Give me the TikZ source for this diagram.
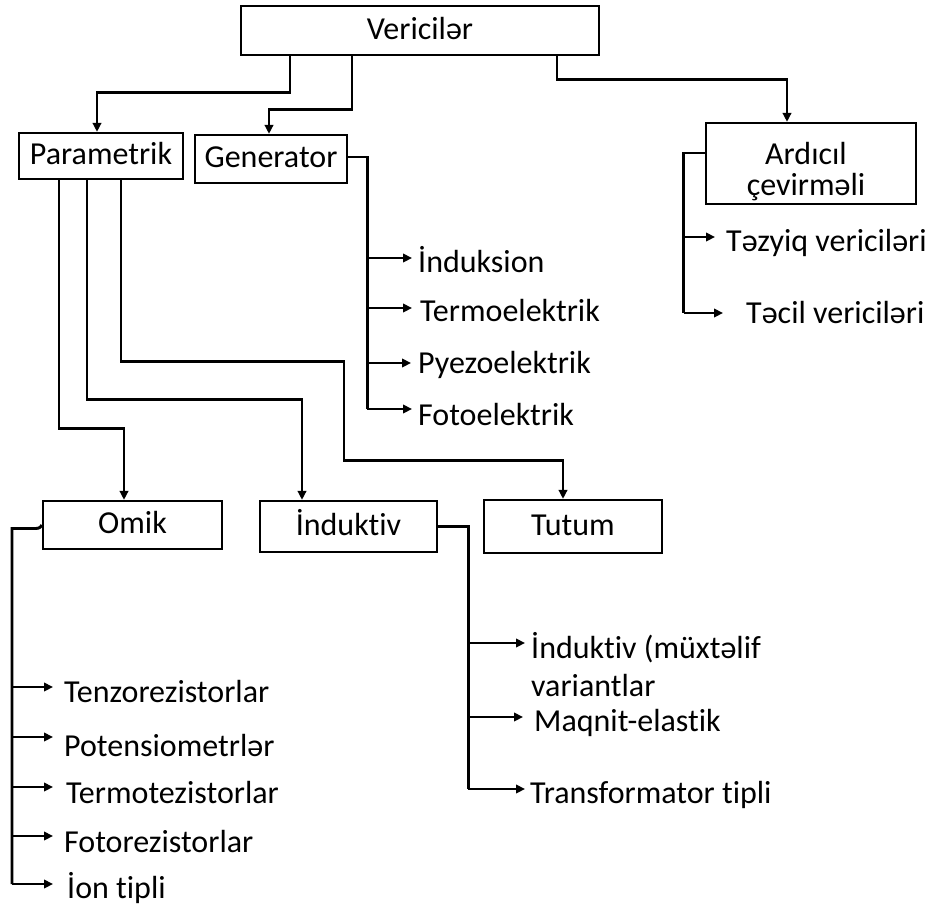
\documentclass[tikz,border=0pt]{standalone}
\usepackage{fontspec}
\setmainfont{Carlito}[Ligatures=NoCommon]
\usetikzlibrary{arrows.meta}
\begin{document}
\begin{tikzpicture}[x=1pt,y=-1pt,
  box/.style={draw, line width=2.3pt, inner sep=0pt, text height=21pt, text depth=3.5pt, font=\fontsize{32}{37}\selectfont},
  lbl/.style={anchor=base west, inner sep=0pt, font=\fontsize{32}{37}\selectfont},
  conn/.style={line width=2.9pt},
  arr/.style={conn, -{Triangle[length=9pt,width=8.5pt]}}]
\useasboundingbox (0,0) rectangle (929,906);
% boxes
\node[box, minimum width=358pt, minimum height=49pt] (ver) at (420,30.5) {Vericilər};
\node[box, minimum width=164pt, minimum height=46pt] (par) at (101,156) {Parametrik};
\node[box, minimum width=152pt, minimum height=48pt] (gen) at (271,159) {Generator};
\node[box, minimum width=210pt, minimum height=81pt] (ard) at (811,163.5) {};
\node[inner sep=0pt, align=center, font=\fontsize{32}{31}\selectfont] (ardt) at (806,172) {Ardıcıl\\çevirməli};
\node[box, minimum width=179pt, minimum height=48pt] (omik) at (132.5,525) {Omik};
\node[box, minimum width=177pt, minimum height=51pt] (ind) at (348.5,526.5) {İnduktiv};
\node[box, minimum width=178pt, minimum height=53pt] (tut) at (573,526.5) {Tutum};
% top connectors
\draw[arr] ([xshift=-130pt]ver.south) -- ++(0,36) -| ([xshift=-4pt]par.north);
\draw[arr] ([xshift=-68pt]ver.south) -- ++(0,53) -| ([xshift=-2pt]gen.north);
\draw[arr] ([xshift=137pt]ver.south) -- ++(0,23) -| ([xshift=-24pt]ard.north);
% parametrik connectors
\draw[arr] ([xshift=-42pt]par.south) -- ++(0,248) -| ([xshift=-8.5pt]omik.north);
\draw[arr] ([xshift=-14pt]par.south) -- ++(0,219) -| ([xshift=-46.5pt]ind.north);
\draw[arr] ([xshift=20pt]par.south) -- ++(0,181) -- ++(223,0) -- ++(0,99) -| ([xshift=-10pt]tut.north);
% generator tree
\coordinate (g1) at (412,258);
\coordinate (g2) at (412,308);
\coordinate (g3) at (411,363);
\coordinate (g4) at (412,409);
\draw[conn] ([yshift=2pt]gen.east) -- ++(19,0) coordinate (gv) -- (g4 -| gv);
\draw[arr] (g1 -| gv) -- (g1);
\draw[arr] (g2 -| gv) -- (g2);
\draw[arr] (g3 -| gv) -- (g3);
\draw[arr] (g4 -| gv) -- (g4);
\node[lbl] (l1) at (418,272.7) {İnduksion};
\node[lbl] (l2) at (420,321.7) {Termoelektrik};
\node[lbl] (l3) at (418,373.3) {Pyezoelektrik};
\node[lbl] (l4) at (418,425) {Fotoelektrik};
% ardicil tree
\coordinate (a1) at (715,237);
\coordinate (a2) at (723,313);
\draw[conn] ([yshift=10.5pt]ard.west) -- ++(-21,0) coordinate (av) -- (a2 -| av);
\draw[arr] (a1 -| av) -- (a1);
\draw[arr] (a2 -| av) -- (a2);
\node[lbl] (r1) at (726,251.7) {Təzyiq vericiləri};
\node[lbl] (r2) at (746,323.3) {Təcil vericiləri};
% omik tree
\coordinate (o1) at (53,687);
\coordinate (o2) at (53,737);
\coordinate (o3) at (53,787);
\coordinate (o4) at (53,836);
\coordinate (o5) at (53,884);
\coordinate (ov) at (12,528.5);
\draw[conn] (omik.west) .. controls (40,528.5) and (38,528.5) .. (33,528.5) -- (ov) -- (o5 -| ov);
\draw[arr] (o1 -| ov) -- (o1);
\draw[arr] (o2 -| ov) -- (o2);
\draw[arr] (o3 -| ov) -- (o3);
\draw[arr] (o4 -| ov) -- (o4);
\draw[arr] (o5 -| ov) -- (o5);
\node[lbl] (m1) at (64,702.7) {Tenzorezistorlar};
\node[lbl] (m2) at (64,756.7) {Potensiometrlər};
\node[lbl] (m3) at (66,803.3) {Termotezistorlar};
\node[lbl] (m4) at (64,852.3) {Fotorezistorlar};
\node[lbl] (m5) at (67,898.3) {İon tipli};
% induktiv tree
\coordinate (i1) at (525,643);
\coordinate (i2) at (523,717);
\coordinate (i3) at (525,789);
\draw[conn] (ind.east) -- ++(30,0) coordinate (iv) -- (i3 -| iv);
\draw[arr] (i1 -| iv) -- (i1);
\draw[arr] (i2 -| iv) -- (i2);
\draw[arr] (i3 -| iv) -- (i3);
\node[lbl] (n1) at (531,658.3) {İnduktiv (müxtəlif};
\node[lbl] (n2) at (531,696.7) {variantlar};
\node[lbl] (n3) at (534,731.7) {Maqnit-elastik};
\node[lbl] (n4) at (530,803) {Transformator tipli};
\end{tikzpicture}
\end{document}
